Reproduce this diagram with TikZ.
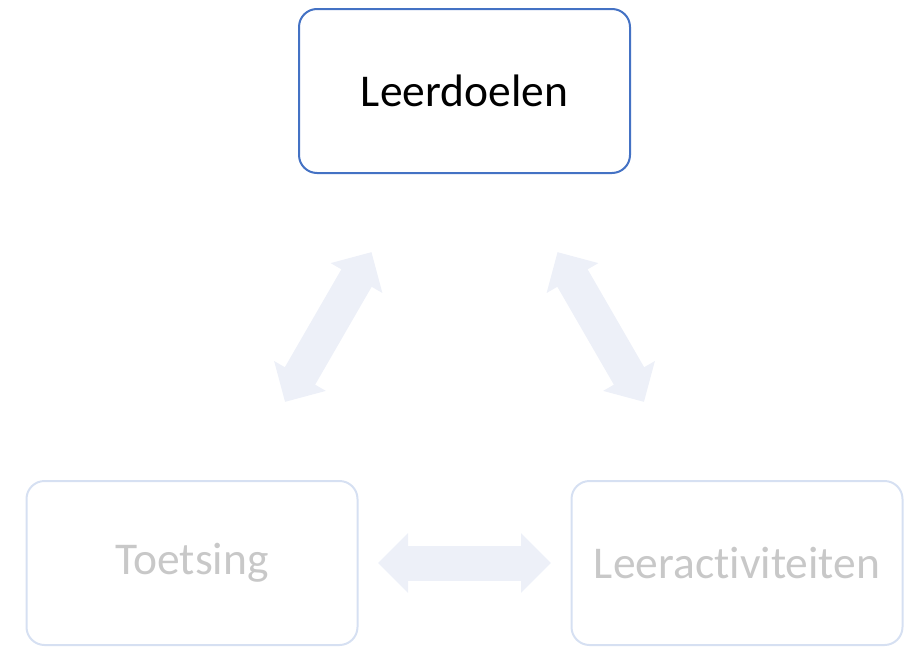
\documentclass[tikz,border=0pt]{standalone}
\usepackage{fontspec}
\setmainfont{Carlito}[Ligatures = NoCommon]
\usetikzlibrary{arrows.meta}
\definecolor{doelblue}{RGB}{68,114,196}
\definecolor{paleline}{RGB}{214,224,242}
\definecolor{paletext}{RGB}{200,200,200}
\definecolor{palefill}{RGB}{237,240,248}

\begin{document}
\begin{tikzpicture}[x = 1pt, y = -1pt,
    every node/.style = {shape = rectangle, rounded corners = 18pt, line width = 2pt,
        minimum width = 331pt, minimum height = 164pt, font = \fontsize{45.5}{54}\selectfont},
    fadedbox/.style = {draw = paleline, text = paletext},
    twoway/.style = {draw = palefill, line width = 35pt,
        {Triangle[length = 30pt, width = 58pt]}-{Triangle[length = 30pt, width = 58pt]},
        shorten <= 186pt, shorten >= 186pt}]
    \useasboundingbox (0,0) rectangle (910,648);
        \node[draw = doelblue] (doel) at (464.5,91) {Leerdoelen};
        \node[fadedbox] (toets) at (192,563) {Toetsing};
        \node[fadedbox] (activ) at (737,563) {Leeractiviteiten};
        \draw[twoway] (toets.center) -- (doel.center);
        \draw[twoway] (activ.center) -- (doel.center);
        \draw[twoway] (toets.center) -- (activ.center);
\end{tikzpicture}
\end{document}
